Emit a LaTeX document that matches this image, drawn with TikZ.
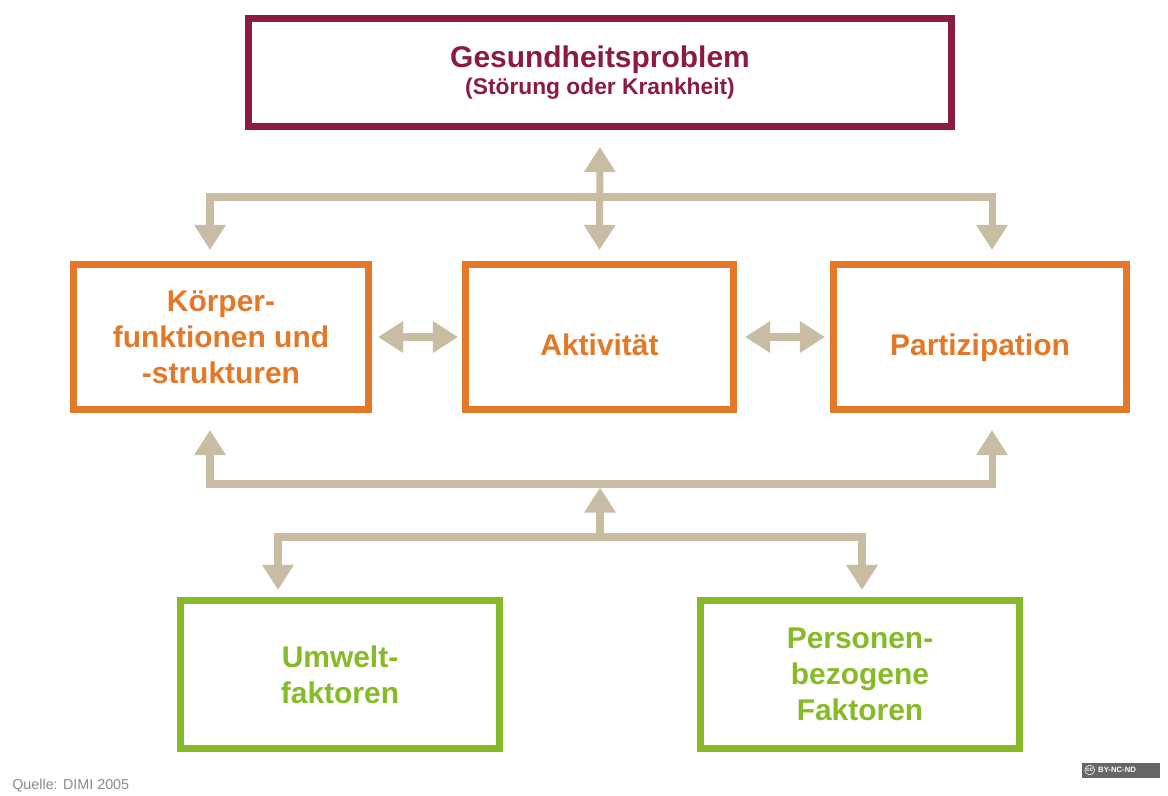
\documentclass[tikz,border=0pt]{standalone}
\usepackage{fontspec}
\setmainfont{Liberation Sans}
\usetikzlibrary{arrows.meta,shadows}

\definecolor{gpred}{RGB}{139,27,64}
\definecolor{icforange}{RGB}{226,120,40}
\definecolor{icfgruen}{RGB}{134,186,38}
\definecolor{icfbeige}{RGB}{200,188,163}
\newcommand{\px}{0.025cm} % ein Pixel des Originals

\begin{document}
\begin{tikzpicture}[
    x=0.025cm, y=-0.025cm, % Pixelraster: Ursprung oben links
    >={Triangle[length=17.8pt,width=21.3pt]},
    kasten/.style={draw, line width=5pt, fill=white, align=center, inner sep=0pt,
        drop shadow={shadow xshift=1.5pt, shadow yshift=-1.5pt, opacity=.25},
        font=\bfseries\fontsize{21.3}{25.6}\selectfont},
    einzeilig/.style={text height=25.6pt, text depth=0pt},
    pfeil/.style={draw=icfbeige, line width=5pt, line join=miter}
]
    % Bildgroesse festlegen
    \useasboundingbox[fill=white] (0,0) rectangle (1168,795);

    % 1. Gesundheitsproblem oben
    \node[kasten, draw=gpred, text=gpred, font=\bfseries\fontsize{16.2}{19.2}\selectfont,
          minimum width=703*\px, minimum height=108*\px] (gp) at (600,72.5)
          {{\fontsize{21.3}{19.2}\selectfont Gesundheitsproblem}\\(Störung oder Krankheit)};

    % 2. mittlere Reihe: Name/x/Breite/Stil/Text
    \foreach \name/\x/\w/\opt/\txt in {kf/221/295/{}/{Körper-\\funktionen und\\-strukturen},
                                       akt/599.5/268/einzeilig/Aktivität,
                                       pz/980/293/einzeilig/Partizipation} {
        \node[kasten, \opt, draw=icforange, text=icforange,
              minimum width=\w*\px, minimum height=145*\px] (\name) at (\x,337) {\txt};
    }

    % 3. Kontextfaktoren unten
    \node[kasten, draw=icfgruen, text=icfgruen, minimum width=319*\px, minimum height=148*\px]
        (uw) at (340,674.5) {Umwelt-\\faktoren};
    \node[kasten, draw=icfgruen, text=icfgruen, minimum width=319*\px, minimum height=148*\px]
        (pb) at (860,674.5) {Personen-\\bezogene\\Faktoren};

    % Verteilerpunkte der Pfeile
    \coordinate (o1) at (210,197);
    \coordinate (o2) at (992,197);
    \coordinate (u1) at (210,484);
    \coordinate (u2) at (992,484);
    \coordinate (u0) at (600,484);
    \coordinate (v0) at (600,537);
    \coordinate (v1) at (278,537);
    \coordinate (v2) at (862,537);

    % 4. Wechselwirkungen
    \draw[pfeil, <->, shorten <=17*\px, shorten >=11*\px] (gp.south) -- (akt.north);
    \draw[pfeil, <->, shorten <=11*\px, shorten >=11*\px] (kf.north -| o1) -- (o1) -- (o2) -- (pz.north -| o2);
    \draw[pfeil, <->, shorten <=6*\px, shorten >=4*\px] (kf.east) -- (akt.west);
    \draw[pfeil, <->, shorten <=8*\px, shorten >=5*\px] (akt.east) -- (pz.west);
    \draw[pfeil, <->, shorten <=17*\px, shorten >=17*\px] (kf.south -| u1) -- (u1) -- (u2) -- (pz.south -| u2);
    \draw[pfeil, ->, shorten >=3.5*\px] (v0) -- (u0);
    \draw[pfeil, <->, shorten <=7*\px, shorten >=7*\px] (uw.north -| v1) -- (v1) -- (v2) -- (pb.north -| v2);

    % Quelle und Lizenz
    \node[anchor=base west, inner sep=0pt, text=black!45, font=\fontsize{10.2}{12}\selectfont]
        (quelle) at (12,789) {Quelle: DIMI 2005};
    \node[fill=black!60, inner sep=0pt, minimum width=78*\px, minimum height=15*\px] (cc) at (1121,770) {};
    \node[draw=white, fill=black!60, circle, inner sep=0.5pt, text=white,
          font=\bfseries\fontsize{4.5}{4.5}\selectfont] (ccz) at ([xshift=8*\px]cc.west) {cc};
    \node[anchor=west, inner sep=0pt, text=white, font=\bfseries\fontsize{5.5}{6}\selectfont]
        (ccl) at ([xshift=3*\px]ccz.east) {BY-NC-ND};
\end{tikzpicture}
\end{document}
